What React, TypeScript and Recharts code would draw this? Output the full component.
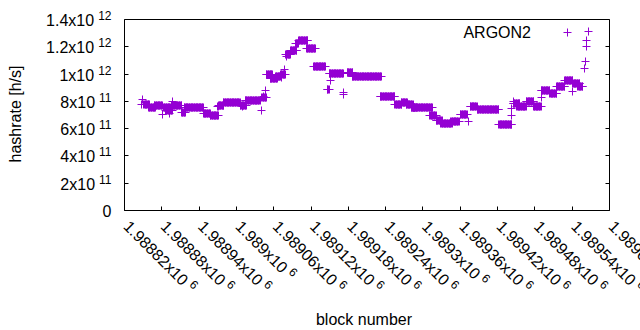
import React from 'react';
import { ScatterChart, Scatter, XAxis, YAxis, Customized } from 'recharts';

const COLOR = '#9400D3';
const FONT = '"Liberation Sans", Arial, sans-serif';

// stretches of blocks where the reported hashrate stays constant
const runStart = [
  1988851, 1988859, 1988868, 1988883, 1988886, 1988895, 1988912, 1988916, 1988947, 1988958,
  1988971, 1988979, 1989006, 1989014, 1989041, 1989048, 1989054, 1989063, 1989071, 1989079,
  1989087, 1989095, 1989100, 1989113, 1989124, 1989146, 1989149, 1989178, 1989186, 1989231,
  1989255, 1989265, 1989273, 1989281, 1989283, 1989311, 1989321, 1989329, 1989345, 1989360,
  1989376, 1989387, 1989422, 1989445, 1989451, 1989466, 1989478, 1989490, 1989504, 1989515,
  1989528, 1989541, 1989549,
];
const runEnd = [
  1988860, 1988870, 1988881, 1988894, 1988897, 1988912, 1988918, 1988947, 1988958, 1988971,
  1988980, 1989006, 1989016, 1989038, 1989048, 1989058, 1989066, 1989071, 1989079, 1989087,
  1989097, 1989100, 1989115, 1989127, 1989143, 1989149, 1989172, 1989187, 1989233, 1989255,
  1989266, 1989275, 1989284, 1989289, 1989315, 1989321, 1989331, 1989347, 1989358, 1989371,
  1989387, 1989422, 1989443, 1989456, 1989466, 1989478, 1989490, 1989504, 1989515, 1989528,
  1989541, 1989552, 1989557,
];
const runRate = [
  7.78e11, 7.56e11, 7.71e11, 7.56e11, 7.34e11, 7.71e11, 7.2e11, 7.56e11, 7.11e11, 6.96e11,
  7.73e11, 7.93e11, 7.71e11, 8.08e11, 8.3e11, 9.98e11, 9.69e11, 9.83e11, 9.95e11, 11.45e11,
  11.75e11, 12.22e11, 12.46e11, 11.88e11, 10.56e11, 8.9e11, 10.05e11, 10.15e11, 9.83e11, 8.37e11,
  7.78e11, 7.95e11, 7.78e11, 7.58e11, 7.53e11, 6.95e11, 6.58e11, 6.39e11, 6.49e11, 7.05e11,
  7.64e11, 7.39e11, 6.27e11, 7.86e11, 7.64e11, 8.0e11, 7.64e11, 8.81e11, 8.56e11, 9.07e11,
  9.54e11, 9.32e11, 9.07e11,
];

// single readings off the runs
const loneBlock = [
  1988848, 1988849, 1988881, 1988893, 1988897, 1988969, 1988971, 1989009, 1989040, 1989044,
  1989046, 1989073, 1989077, 1989080, 1989152, 1989172, 1989173, 1989374, 1989443, 1989443,
  1989446, 1989490, 1989540, 1989560, 1989562, 1989563, 1989563, 1989566,
];
const loneRate = [
  7.78e11, 8.17e11, 7.05e11, 7.12e11, 7.97e11, 7.65e11, 7.61e11, 7.61e11, 7.32e11, 8.34e11,
  8.83e11, 9.73e11, 10.37e11, 11.32e11, 9.56e11, 8.5e11, 8.63e11, 6.56e11, 7.0e11, 7.44e11,
  7.97e11, 8.3e11, 8.7e11, 10.42e11, 10.9e11, 12.0e11, 12.49e11, 13.1e11,
];

const xTicks = [
  1988820, 1988880, 1988940, 1989000, 1989060, 1989120, 1989180,
  1989240, 1989300, 1989360, 1989420, 1989480, 1989540, 1989600,
];
const xTickLabels = [
  '1.98882', '1.98888', '1.98894', '1.989', '1.98906', '1.98912', '1.98918',
  '1.98924', '1.9893', '1.98936', '1.98942', '1.98948', '1.98954', '1.9896',
];
const yTicks = [0, 2e11, 4e11, 6e11, 8e11, 1e12, 1.2e12, 1.4e12];
const yTickMantissa = ['0', '2', '4', '6', '8', '1', '1.2', '1.4'];
const yTickExp = ['', '11', '11', '11', '11', '12', '12', '12'];

const points: { block: number; rate: number }[] = [];
runStart.forEach((s, i) => {
  for (let b = s; b <= runEnd[i]; b++) points.push({ block: b, rate: runRate[i] });
});
loneBlock.forEach((b, i) => points.push({ block: b, rate: loneRate[i] }));

const px = (v: number) => Math.round(v - 0.5) + 0.5;

const Plus = ({ cx, cy }: any) => {
  if (cx == null || cy == null) return null;
  const x = px(cx);
  const y = px(cy);
  return <path d={`M${x - 4},${y}h8M${x},${y - 4}v8`} stroke={COLOR} strokeWidth={1} fill="none" />;
};

const BottomTick = ({ x, y, index }: any) => {
  const tx = px(x);
  const ax = x - 2;
  const ay = y + 17;
  return (
    <g>
      <line x1={tx} y1={y} x2={tx} y2={y - 4} stroke="#000" />
      <text x={ax} y={ay} transform={`rotate(45 ${ax} ${ay})`} fontSize={16} fontFamily={FONT} fill="#000">
        {xTickLabels[index]}x10
        <tspan dx={4} dy={-6} fontSize={12}>6</tspan>
      </text>
    </g>
  );
};

const TopTick = ({ x, y }: any) => {
  const tx = px(x);
  return <line x1={tx} y1={y} x2={tx} y2={y + 4} stroke="#000" />;
};

const LeftTick = ({ x, y, index }: any) => {
  const ty = px(y);
  return (
    <g>
      <line x1={x} y1={ty} x2={x + 4} y2={ty} stroke="#000" />
      <text x={x - 13} y={y + 6.5} textAnchor="end" fontSize={16} fontFamily={FONT} fill="#000">
        {yTickExp[index] ? `${yTickMantissa[index]}x10` : yTickMantissa[index]}
        {yTickExp[index] ? <tspan dx={4} dy={-6} fontSize={12}>{yTickExp[index]}</tspan> : null}
      </text>
    </g>
  );
};

const RightTick = ({ x, y }: any) => {
  const ty = px(y);
  return <line x1={x} y1={ty} x2={x - 4} y2={ty} stroke="#000" />;
};

const Labels = () => (
  <g fontFamily={FONT} fontSize={16} fill="#000">
    <text x={21} y={114} textAnchor="middle" transform="rotate(-90 21 114)">hashrate [h/s]</text>
    <text x={364} y={324.5} textAnchor="middle">block number</text>
    <text x={531} y={37.5} textAnchor="end">ARGON2</text>
    <path d="M563.5,32.5h8M567.5,28.5v8" stroke={COLOR} strokeWidth={1} />
  </g>
);

export default function App() {
  return (
    <div style={{ position: 'absolute', left: 0, top: 0, width: 640, height: 330, background: '#fff' }}>
      <ScatterChart width={640} height={330} margin={{ top: 0, right: 0, bottom: 0, left: 0 }}>
        <XAxis
          xAxisId="b"
          dataKey="block"
          type="number"
          domain={[1988820, 1989600]}
          ticks={xTicks}
          interval={0}
          allowDataOverflow
          height={119.5}
          tickSize={0}
          tickMargin={0}
          tickLine={false}
          axisLine={{ stroke: '#000' }}
          tick={<BottomTick />}
        />
        <XAxis
          xAxisId="t"
          orientation="top"
          type="number"
          domain={[1988820, 1989600]}
          ticks={xTicks}
          interval={0}
          allowDataOverflow
          height={19.5}
          tickSize={0}
          tickMargin={0}
          tickLine={false}
          axisLine={{ stroke: '#000' }}
          tick={<TopTick />}
        />
        <YAxis
          yAxisId="l"
          dataKey="rate"
          type="number"
          domain={[0, 1.4e12]}
          ticks={yTicks}
          interval={0}
          allowDataOverflow
          width={124.5}
          tickSize={0}
          tickMargin={0}
          tickLine={false}
          axisLine={{ stroke: '#000' }}
          tick={<LeftTick />}
        />
        <YAxis
          yAxisId="r"
          orientation="right"
          type="number"
          domain={[0, 1.4e12]}
          ticks={yTicks}
          interval={0}
          allowDataOverflow
          width={30.5}
          tickSize={0}
          tickMargin={0}
          tickLine={false}
          axisLine={{ stroke: '#000' }}
          tick={<RightTick />}
        />
        <Scatter
          xAxisId="b"
          yAxisId="l"
          data={points}
          fill={COLOR}
          shape={<Plus />}
          isAnimationActive={false}
        />
        <Customized component={Labels} />
      </ScatterChart>
    </div>
  );
}
